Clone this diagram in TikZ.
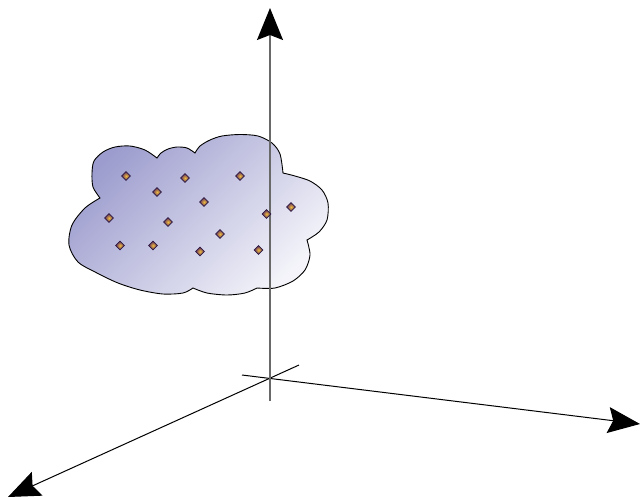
\documentclass[tikz,border=0pt]{standalone}
\usetikzlibrary{arrows.meta,shapes.geometric}
\definecolor{cloudA}{RGB}{156,156,206}
\definecolor{cloudB}{RGB}{244,244,250}
\definecolor{mkin}{RGB}{240,190,60}
\definecolor{mkout}{RGB}{95,45,95}
\definecolor{mkline}{RGB}{45,25,65}
\definecolor{axgray}{RGB}{105,105,105}
\begin{document}
\begin{tikzpicture}[x=1pt,y=-1pt,
  bigtip/.style={-{Stealth[length=32pt,width=26pt,inset=5pt,color=black]}},
  axisline/.style={line width=1pt,draw=black,bigtip},
  vaxisline/.style={line width=1.5pt,draw=axgray,bigtip},
  cloudshape/.style={draw=black,line width=0.9pt,top color=cloudA,bottom color=cloudB,shading angle=45},
  mk/.style={diamond,minimum size=9pt,inner sep=0pt,draw=mkline,line width=0.8pt,inner color=mkin,outer color=mkout}]
\useasboundingbox (0,0) rectangle (640,499);
% axis end points
\coordinate (o) at (270,378.5);
\coordinate (vtop) at (270,8);
\coordinate (vbot) at (270,401);
\coordinate (rtip) at (640,424);
\coordinate (rback) at (242,375);
\coordinate (ltip) at (8,497);
\coordinate (lback) at (299,365);
\draw[axisline] (rback) -- (rtip);
\draw[axisline] (lback) -- (ltip);
% cloud
\path[cloudshape]
  plot[smooth] coordinates {(100,198) (93,187) (92,173) (94,161) (103,152) (115,147) (130,146) (145,150) (157,158)}
  -- plot[smooth] coordinates {(157,158) (161,153) (168,149) (177,147) (187,148) (195,153)}
  -- plot[smooth] coordinates {(195,153) (200,146) (210,140) (222,136) (240,134.5) (258,136) (272,143) (280,154) (283,173)}
  -- plot[smooth] coordinates {(283,173) (295,176) (310,181) (322,190) (328,203) (327,220) (319,232) (307,240)}
  -- plot[smooth] coordinates {(307,240) (310,255) (305,270) (293,281) (275,288) (257,288)}
  -- plot[smooth] coordinates {(257,288) (245,293) (227,295) (207,293) (193,288)}
  -- plot[smooth] coordinates {(193,288) (183,293) (163,294) (140,290) (118,283) (97,273) (78,262) (69,245) (72,225) (85,208) (100,198)}
  -- cycle;
\draw[vaxisline] (vbot) -- (vtop);
% markers
\node[mk] (m1) at (126,176) {};
\node[mk] (m2) at (185,178) {};
\node[mk] (m3) at (240,176) {};
\node[mk] (m4) at (157,192) {};
\node[mk] (m5) at (204,202) {};
\node[mk] (m6) at (109,218) {};
\node[mk] (m7) at (168,222) {};
\node[mk] (m8) at (266.5,214) {};
\node[mk] (m9) at (291,207) {};
\node[mk] (m10) at (220,234) {};
\node[mk] (m11) at (120,245.5) {};
\node[mk] (m12) at (153,245.5) {};
\node[mk] (m13) at (200,251.5) {};
\node[mk] (m14) at (258.5,250) {};
\end{tikzpicture}
\end{document}
